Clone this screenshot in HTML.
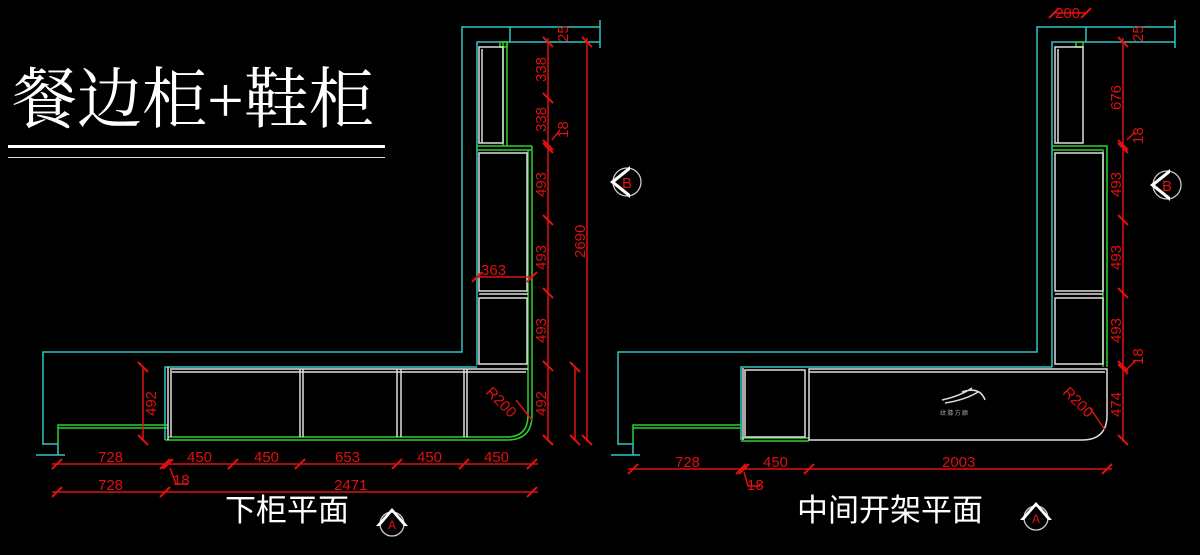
<!DOCTYPE html>
<html><head><meta charset="utf-8"><style>
html,body{margin:0;padding:0;background:#000;}
svg{display:block}
</style></head><body>
<svg width="1200" height="555" viewBox="0 0 1200 555" xmlns="http://www.w3.org/2000/svg" font-family="Liberation Sans, sans-serif">
<rect width="1200" height="555" fill="#000"/>
<!-- Title -->
<text x="12" y="122" font-family="Liberation Serif, Noto Serif CJK SC, serif" font-size="66" fill="#fff" textLength="362" lengthAdjust="spacingAndGlyphs">餐边柜+鞋柜</text>
<rect x="8" y="145" width="377" height="3" fill="#fff"/>
<rect x="8" y="157" width="377" height="1" fill="#ddd"/>

<!-- ============ LEFT DRAWING ============ -->
<g fill="none" stroke-width="1.5">
<g stroke="#33c4c4">
<polyline points="43,445 43,352 462,352 462,27 600,27"/>
<polyline points="510,27 510,42"/>
<polyline points="477,365 477,42 600,42"/>
<line x1="600" y1="20" x2="600" y2="48"/>
<polyline points="43,444 58,444 58,455"/>
<line x1="36" y1="455" x2="65" y2="455"/>
<polyline points="165,440 165,367 477,367"/>
</g>
<g stroke="#2fcf2f">
<polyline points="58,444 58,425 168,425"/>
<line x1="58" y1="428" x2="168" y2="428"/>
<path d="M532,146 V415 Q532,440 507,440 H165"/>
<path d="M528,150 V415 Q528,437 507,437 H168"/>
<line x1="477" y1="146" x2="532" y2="146"/>
<line x1="477" y1="150" x2="532" y2="150"/>
<line x1="503" y1="42" x2="503" y2="146"/>
<line x1="507" y1="42" x2="507" y2="146"/>
<rect x="500" y="42" width="7" height="5"/>
</g>
<g stroke="#ddd">
<rect x="479" y="47" width="24" height="96"/>
<line x1="482" y1="49" x2="482" y2="143"/>
<rect x="479" y="153" width="48" height="138"/>
<rect x="479" y="298" width="48" height="66"/>
<line x1="479" y1="294" x2="528" y2="294"/>
<line x1="170" y1="369" x2="528" y2="369"/>
<line x1="168" y1="367" x2="168" y2="440"/>
<line x1="171" y1="370" x2="171" y2="437"/>
<line x1="300" y1="369" x2="300" y2="437"/>
<line x1="303" y1="369" x2="303" y2="437"/>
<line x1="397" y1="369" x2="397" y2="437"/>
<line x1="401" y1="369" x2="401" y2="437"/>
<line x1="464" y1="369" x2="464" y2="437"/>
<line x1="467" y1="369" x2="467" y2="437"/>
<line x1="172" y1="372" x2="526" y2="372"/>
</g>
<g stroke="#e01010">
<line x1="548" y1="38" x2="548" y2="442"/>
<line x1="587" y1="38" x2="587" y2="442"/>
<line x1="143" y1="367" x2="143" y2="440"/>
<line x1="575" y1="367" x2="575" y2="440"/>
<line x1="52" y1="464" x2="538" y2="464"/>
<line x1="52" y1="492" x2="538" y2="492"/>
<line x1="477" y1="277" x2="532" y2="277"/>
<g stroke-width="2">
<path d="M543,37l10,10 M543,93l10,10 M543,140l10,10 M543,143l10,10 M543,215l10,10 M543,288l10,10 M543,361l10,10 M543,435l10,10
M582,37l10,10 M582,435l10,10 M138,362l10,10 M138,435l10,10 M570,362l10,10 M570,435l10,10
M52,469l10,-10 M160,469l10,-10 M163,469l10,-10 M228,469l10,-10 M295,469l10,-10 M392,469l10,-10 M459,469l10,-10 M527,469l10,-10
M52,497l10,-10 M160,497l10,-10 M527,497l10,-10 M472,282l10,-10 M527,282l10,-10"/>
</g>
<path d="M170,468 L176,484 H188"/>
<path d="M552,140 L560,130"/>
<path d="M516,400 L532,420"/>
</g>
</g>
<g fill="#e01010" font-size="15">
<text x="98" y="462">728</text><text x="187" y="462">450</text><text x="254" y="462">450</text>
<text x="335" y="462">653</text><text x="417" y="462">450</text><text x="484" y="462">450</text>
<text x="98" y="490">728</text><text x="334" y="490">2471</text>
<text x="173" y="485">18</text>
<text x="481" y="275">363</text>
<text transform="translate(546,82) rotate(-90)">338</text>
<text transform="translate(546,132) rotate(-90)">338</text>
<text transform="translate(568,138) rotate(-90)">18</text>
<text transform="translate(568,42) rotate(-90)">25</text>
<text transform="translate(546,197) rotate(-90)">493</text>
<text transform="translate(546,270) rotate(-90)">493</text>
<text transform="translate(546,343) rotate(-90)">493</text>
<text transform="translate(546,416) rotate(-90)">492</text>
<text transform="translate(156,416) rotate(-90)">492</text>
<text transform="translate(585,258) rotate(-90)">2690</text>
<text transform="translate(485,393) rotate(45)">R200</text>
</g>
<text x="225" y="521" font-family="Liberation Sans, Noto Sans CJK SC, sans-serif" font-size="31" fill="#fff">下柜平面</text>
<g transform="translate(392,524)">
<circle r="12" fill="none" stroke="#ccc" stroke-width="1.3"/>
<path d="M-16,2 L0,-16 L16,2 L12,2 L0,-12 L-12,2Z" fill="#fff"/>
<text x="-4" y="5" fill="#e01010" font-size="12">A</text>
</g>
<g transform="translate(627,182)">
<circle r="14" fill="none" stroke="#ccc" stroke-width="1.3"/>
<path d="M3,-16 L-17,0 L3,16 L3,12 L-12,0 L3,-12Z" fill="#fff"/>
<text x="-5" y="6" fill="#e01010" font-size="15">B</text>
</g>

<!-- ============ RIGHT DRAWING ============ -->
<g fill="none" stroke-width="1.5">
<g stroke="#33c4c4">
<polyline points="618,445 618,352 1037,352 1037,27 1175,27"/>
<polyline points="1086,27 1086,42"/>
<polyline points="1052,367 1052,42 1175,42"/>
<line x1="1175" y1="20" x2="1175" y2="48"/>
<polyline points="618,444 633,444 633,455"/>
<line x1="611" y1="455" x2="640" y2="455"/>
<polyline points="741,440 741,367 1052,367"/>
</g>
<g stroke="#2fcf2f">
<polyline points="633,444 633,425 741,425"/>
<line x1="633" y1="428" x2="741" y2="428"/>
<rect x="1076" y="42" width="7" height="5"/>
<polyline points="1052,146 1107,146 1107,367"/>
<polyline points="1052,150 1103,150 1103,367"/>
<line x1="741" y1="438" x2="809" y2="438"/>
<line x1="741" y1="441" x2="809" y2="441"/>
</g>
<g stroke="#ddd">
<rect x="1055" y="47" width="28" height="96"/>
<line x1="1058" y1="49" x2="1058" y2="143"/>
<rect x="1055" y="153" width="48" height="138"/>
<line x1="1055" y1="294" x2="1103" y2="294"/>
<rect x="1055" y="298" width="48" height="66"/>
<rect x="745" y="370" width="60" height="67"/>
<line x1="743" y1="368" x2="743" y2="440"/>
<path d="M809,369 H1107 V415 Q1107,440 1082,440 H809 Z"/>
<line x1="809" y1="372" x2="1105" y2="372"/>
<path d="M942,400 Q960,396 972,388 M945,403 Q965,400 978,392 M962,392 Q980,386 985,400"/>
</g>
<g stroke="#e01010">
<line x1="1123" y1="38" x2="1123" y2="442"/>
<line x1="628" y1="469" x2="1112" y2="469"/>
<line x1="1054" y1="13" x2="1086" y2="13"/>
<g stroke-width="2">
<path d="M1118,37l10,10 M1118,140l10,10 M1118,143l10,10 M1118,215l10,10 M1118,288l10,10 M1118,361l10,10 M1118,364l10,10 M1118,435l10,10
M628,474l10,-10 M736,474l10,-10 M739,474l10,-10 M804,474l10,-10 M1102,474l10,-10 M1049,18l10,-10 M1081,18l10,-10"/>
</g>
<path d="M744,472 L748,486 H760"/>
<path d="M1127,140 L1135,132"/>
<path d="M1127,369 L1135,361"/>
<path d="M1090,408 L1105,430"/>
</g>
</g>
<g fill="#e01010" font-size="15">
<text x="675" y="467">728</text><text x="763" y="467">450</text><text x="942" y="467">2003</text>
<text x="747" y="490">18</text>
<text x="1055" y="18">200</text>
<text transform="translate(1143,42) rotate(-90)">25</text>
<text transform="translate(1121,110) rotate(-90)">676</text>
<text transform="translate(1143,144) rotate(-90)">18</text>
<text transform="translate(1121,197) rotate(-90)">493</text>
<text transform="translate(1121,270) rotate(-90)">493</text>
<text transform="translate(1121,343) rotate(-90)">493</text>
<text transform="translate(1143,365) rotate(-90)">18</text>
<text transform="translate(1121,417) rotate(-90)">474</text>
<text transform="translate(1062,393) rotate(45)">R200</text>
</g>
<text x="940" y="415" font-family="Noto Sans CJK SC, sans-serif" font-size="6" fill="#aaa">纹 膝 方 廊</text>
<text x="797" y="521" font-family="Liberation Sans, Noto Sans CJK SC, sans-serif" font-size="31" fill="#fff">中间开架平面</text>
<g transform="translate(1036,518)">
<circle r="12" fill="none" stroke="#ccc" stroke-width="1.3"/>
<path d="M-16,2 L0,-16 L16,2 L12,2 L0,-12 L-12,2Z" fill="#fff"/>
<text x="-4" y="5" fill="#e01010" font-size="12">A</text>
</g>
<g transform="translate(1167,185)">
<circle r="14" fill="none" stroke="#ccc" stroke-width="1.3"/>
<path d="M3,-16 L-17,0 L3,16 L3,12 L-12,0 L3,-12Z" fill="#fff"/>
<text x="-5" y="6" fill="#e01010" font-size="15">B</text>
</g>
</svg>
</body></html>
